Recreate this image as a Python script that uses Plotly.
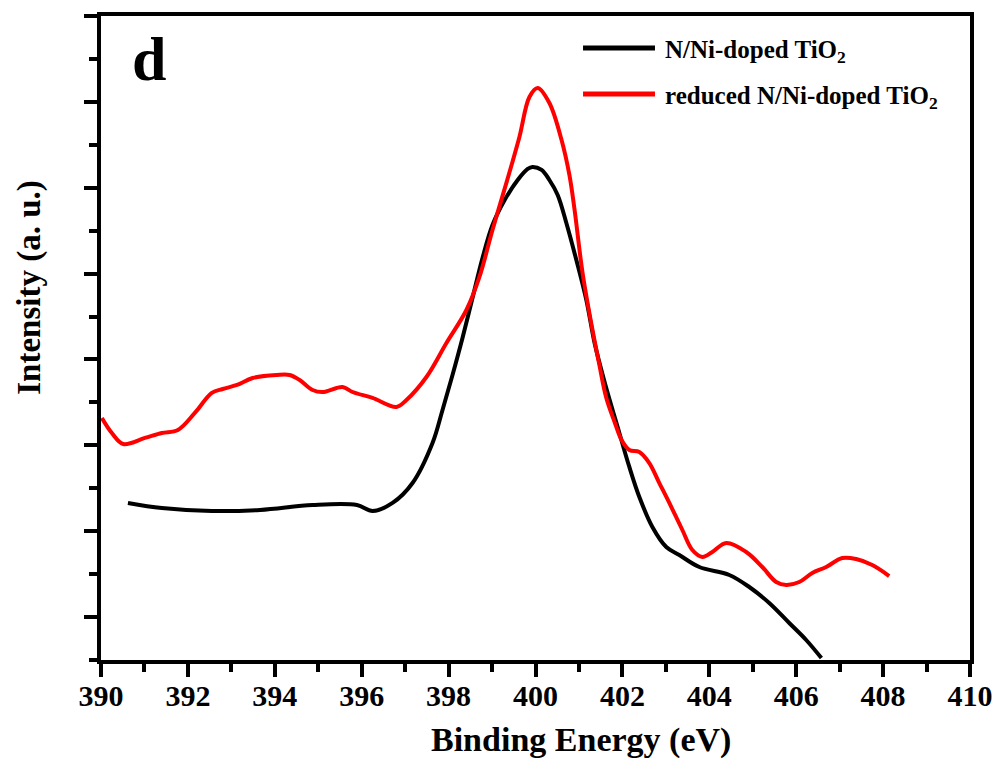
import plotly.graph_objects as go

# N/Ni-doped TiO2 (black)
be_black = [390.62, 391.40, 392.55, 393.66, 394.87, 395.89, 396.25, 396.71,
            397.17, 397.63, 397.86, 398.09, 398.32, 398.55, 398.78, 399.01,
            399.29, 399.59, 399.82, 399.93, 400.14, 400.32, 400.51, 400.71,
            400.94, 401.17, 401.36, 401.59, 401.93, 402.16, 402.39, 402.69,
            403.01, 403.31, 403.77, 404.46, 404.92, 405.38, 405.84, 406.23, 406.58]
int_black = [1.829, 1.770, 1.735, 1.747, 1.805, 1.805, 1.735, 1.829,
             2.061, 2.527, 2.912, 3.319, 3.750, 4.216, 4.682, 5.066,
             5.357, 5.590, 5.719, 5.742, 5.707, 5.590, 5.416, 5.090,
             4.659, 4.193, 3.692, 3.238, 2.644, 2.248, 1.898, 1.549,
             1.316, 1.223, 1.083, 0.990, 0.850, 0.664, 0.431, 0.233, 0.023]

# reduced N/Ni-doped TiO2 (red)
be_red = [390.02, 390.25, 390.51, 391.01, 391.40, 391.77, 392.16, 392.55, 392.80,
          393.13, 393.49, 394.05, 394.34, 394.57, 394.87, 395.10, 395.56, 395.79,
          396.25, 396.80, 397.03, 397.49, 397.95, 398.41, 398.71, 399.01, 399.33,
          399.63, 399.86, 400.05, 400.32, 400.60, 400.78, 400.90, 401.08, 401.29,
          401.47, 401.63, 401.82, 401.98, 402.16, 402.39, 402.62, 402.85, 403.08,
          403.38, 403.61, 403.84, 404.07, 404.39, 404.85, 405.22, 405.54, 405.77,
          406.07, 406.37, 406.69, 407.06, 407.38, 407.75, 408.14]
int_red = [2.819, 2.644, 2.516, 2.586, 2.644, 2.679, 2.877, 3.110, 3.156,
           3.203, 3.284, 3.319, 3.319, 3.261, 3.145, 3.121, 3.180, 3.121,
           3.052, 2.947, 3.028, 3.296, 3.692, 4.076, 4.461, 5.008, 5.556,
           6.091, 6.557, 6.662, 6.487, 6.056, 5.649, 5.241, 4.519, 3.902,
           3.436, 3.052, 2.772, 2.562, 2.446, 2.423, 2.294, 2.061, 1.829,
           1.514, 1.281, 1.200, 1.258, 1.363, 1.258, 1.083, 0.908, 0.874,
           0.908, 1.013, 1.083, 1.188, 1.176, 1.106, 0.978]

x_ticks = [390, 392, 394, 396, 398, 400, 402, 404, 406, 408, 410]
names = ["N/Ni-doped TiO<sub>2</sub>", "reduced N/Ni-doped TiO<sub>2</sub>"]
colors = ["#000000", "#ff0000"]

FONT = "Liberation Serif"

fig = go.Figure()
fig.add_trace(go.Scatter(x=be_black, y=int_black, mode="lines", name=names[0],
                         line=dict(color=colors[0], width=4, shape="spline", smoothing=1.0),
                         showlegend=False))
fig.add_trace(go.Scatter(x=be_red, y=int_red, mode="lines", name=names[1],
                         line=dict(color=colors[1], width=4, shape="spline", smoothing=1.0),
                         showlegend=False))

fig.update_xaxes(range=[390, 410], tickvals=x_ticks, ticktext=[str(t) for t in x_ticks],
                 ticks="outside", ticklen=13, tickwidth=4, tickcolor="black",
                 minor=dict(dtick=1, tick0=390, ticks="outside", ticklen=8, tickwidth=4, tickcolor="black"),
                 showline=True, linewidth=4, linecolor="black", mirror=True,
                 showgrid=False, zeroline=False, automargin=False, ticklabelstandoff=-7,
                 tickfont=dict(family=FONT, size=30, color="black", weight="bold"))
fig.update_yaxes(range=[0, 7.5], tick0=0.5, dtick=1, showticklabels=False,
                 ticks="outside", ticklen=13, tickwidth=4, tickcolor="black",
                 minor=dict(dtick=1, tick0=0, ticks="outside", ticklen=8, tickwidth=4, tickcolor="black"),
                 showline=True, linewidth=4, linecolor="black", mirror=True,
                 showgrid=False, zeroline=False, automargin=False)

# manual legend
leg_y = [0.9503, 0.8789]
for i in range(2):
    fig.add_shape(type="line", xref="paper", yref="paper", x0=0.5547, x1=0.6375,
                  y0=leg_y[i], y1=leg_y[i], line=dict(color=colors[i], width=5))
    fig.add_annotation(xref="paper", yref="paper", x=0.6467, y=leg_y[i] - 0.006,
                       xanchor="left", yanchor="middle", showarrow=False, text=names[i],
                       font=dict(family=FONT, size=25, color="black", weight="bold"))

fig.add_annotation(xref="paper", yref="paper", x=0.0334, y=0.933, xanchor="left", yanchor="middle",
                   showarrow=False, text="d",
                   font=dict(family=FONT, size=62, color="black", weight="bold"))
fig.add_annotation(xref="paper", yref="paper", x=0.5524, y=-0.124, xanchor="center", yanchor="middle",
                   showarrow=False, text="Binding Energy (eV)",
                   font=dict(family=FONT, size=34, color="black", weight="bold"))
fig.add_annotation(xref="paper", yref="paper", x=-0.0817, y=0.578, xanchor="center", yanchor="middle",
                   showarrow=False, text="Intensity (a. u.)", textangle=-90,
                   font=dict(family=FONT, size=33, color="black", weight="bold"))

fig.update_layout(width=997, height=775, margin=dict(l=101, r=27, t=16, b=115),
                  plot_bgcolor="white", paper_bgcolor="white")

fig.write_html("out.html")
